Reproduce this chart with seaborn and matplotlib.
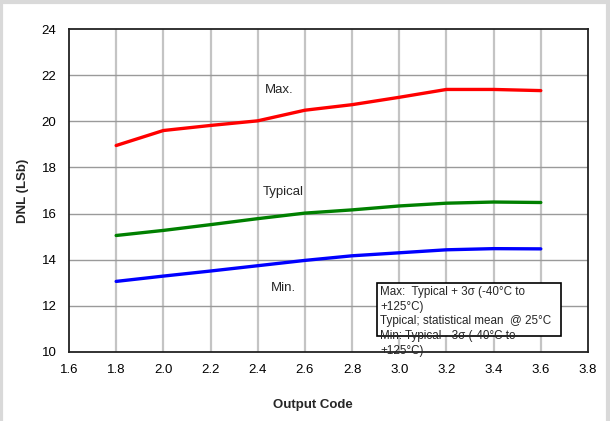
import matplotlib
matplotlib.use("Agg")
import matplotlib.pyplot as plt
import seaborn as sns
import pandas as pd
from matplotlib.patches import Rectangle
from matplotlib.lines import Line2D

codes = [1.8, 2.0, 2.2, 2.4, 2.6, 2.8, 3.0, 3.2, 3.4, 3.6]
dnl_max = [18.95, 19.60, 19.82, 20.02, 20.48, 20.72, 21.04, 21.38, 21.38, 21.33]
dnl_typ = [15.05, 15.27, 15.52, 15.78, 16.02, 16.16, 16.33, 16.45, 16.50, 16.48]
dnl_min = [13.06, 13.29, 13.51, 13.74, 13.97, 14.17, 14.30, 14.43, 14.48, 14.47]
series_names = ["Max.", "Typical", "Min."]
series_colors = ["#ff0000", "#008000", "#0000ff"]
x_ticks = [1.6, 1.8, 2.0, 2.2, 2.4, 2.6, 2.8, 3.0, 3.2, 3.4, 3.6, 3.8]
y_ticks = [10, 12, 14, 16, 18, 20, 22, 24]
note_text = ("Max:  Typical + 3\u03c3 (-40\u00b0C to\n+125\u00b0C)\n"
             "Typical; statistical mean  @ 25\u00b0C\n"
             "Min: Typical - 3\u03c3 (-40\u00b0C to\n+125\u00b0C)")

df = pd.DataFrame({
    "code": codes * 3,
    "dnl": dnl_max + dnl_typ + dnl_min,
    "series": [s for s in series_names for _ in codes],
})

sns.set_style("white")
plt.rcParams["font.family"] = ["Liberation Sans", "DejaVu Sans"]

fig = plt.figure(figsize=(6.10, 4.21), dpi=100)
ax = fig.add_axes([0.1131, 0.1639, 0.8508, 0.7672])

sns.lineplot(data=df, x="code", y="dnl", hue="series", hue_order=series_names,
             palette=series_colors, linewidth=2.4, legend=False, ax=ax, zorder=3)

ax.set_xlim(1.6, 3.8)
ax.set_ylim(10, 24)
ax.set_xticks(x_ticks)
ax.set_yticks(y_ticks)
ax.set_xticklabels([f"{v:.1f}" for v in x_ticks])
ax.set_yticklabels([str(v) for v in y_ticks])
ax.tick_params(axis="both", length=0, labelsize=9.5, colors="#000000")
ax.tick_params(axis="y", pad=9)
ax.tick_params(axis="x", pad=9)

for xv in x_ticks[1:-1]:
    ax.axvline(xv, color="#c4c4c4", linewidth=1.6, zorder=1)
for yv in y_ticks[1:-1]:
    ax.axhline(yv, color="#9a9a9a", linewidth=1.0, zorder=1)

for sp in ax.spines.values():
    sp.set_visible(True)
    sp.set_color("#222222")
    sp.set_linewidth(1.3)

ax.set_xlabel("Output Code", fontsize=9.5, fontweight="bold")
ax.set_ylabel("DNL (LSb)", fontsize=9.5, fontweight="bold")
ax.xaxis.set_label_coords(0.47, -0.145)
ax.yaxis.set_label_coords(-0.077, 0.5)

ax.text(2.49, 21.36, "Max.", fontsize=9.5, ha="center", va="center")
ax.text(2.51, 16.93, "Typical", fontsize=9.5, ha="center", va="center")
ax.text(2.51, 12.77, "Min.", fontsize=9.5, ha="center", va="center")

ax.add_patch(Rectangle((2.906, 10.69), 0.78, 2.30, facecolor="white",
                       edgecolor="#000000", linewidth=1.2, zorder=4, clip_on=False))
ax.text(2.918, 12.88, note_text, fontsize=8.4, ha="left", va="top",
        linespacing=1.33, zorder=5, clip_on=False)

# light gray page frame (top, left, right)
for xs, ys in [([0, 1], [0.996, 0.996]), ([0.002, 0.002], [0, 1]), ([0.997, 0.997], [0, 1])]:
    fig.add_artist(Line2D(xs, ys, transform=fig.transFigure, color="#d9d9d9", linewidth=3))

fig.savefig("out.png", dpi=100, facecolor="white")
